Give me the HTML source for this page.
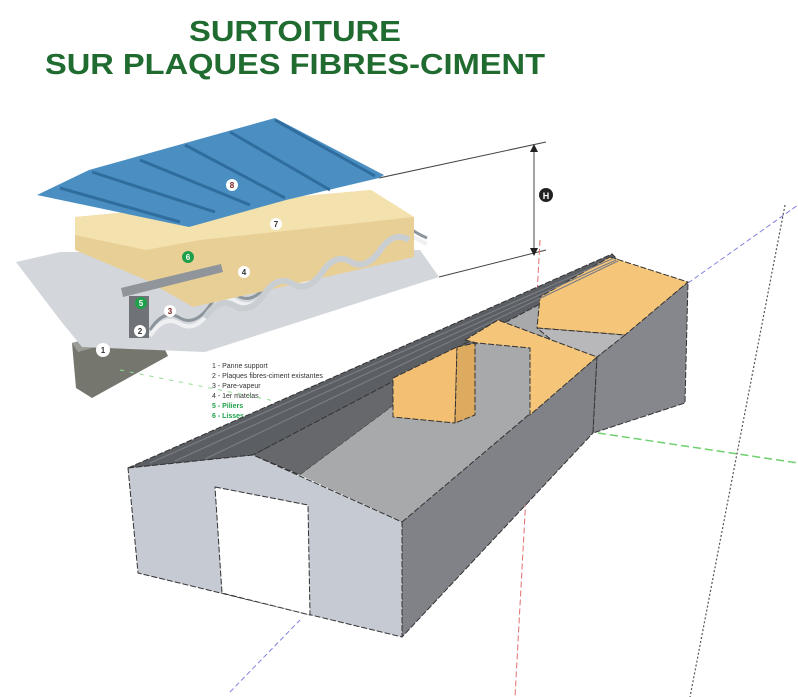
<!DOCTYPE html>
<html><head><meta charset="utf-8"><style>
html,body{margin:0;padding:0;background:#fff;}
svg{display:block}
</style></head><body>
<svg width="798" height="697" viewBox="0 0 798 697" xmlns="http://www.w3.org/2000/svg">
<rect width="798" height="697" fill="#fff"/>
<!-- Title -->
<text x="295" y="41" text-anchor="middle" font-family="Liberation Sans, sans-serif" font-weight="bold" font-size="29" fill="#1f6b30" textLength="212" lengthAdjust="spacingAndGlyphs">SURTOITURE</text>
<text x="295" y="74" text-anchor="middle" font-family="Liberation Sans, sans-serif" font-weight="bold" font-size="29" fill="#1f6b30" textLength="500" lengthAdjust="spacingAndGlyphs">SUR PLAQUES FIBRES-CIMENT</text>

<!-- dimension lines -->
<g stroke="#444" stroke-width="1" fill="none">
<line x1="379" y1="178" x2="546" y2="142"/>
<line x1="439" y1="277" x2="546" y2="250"/>
<line x1="534" y1="146" x2="534" y2="254"/>
</g>
<polygon points="530,152 534,144 538,152" fill="#222"/>
<polygon points="530,248 534,256 538,248" fill="#222"/>
<circle cx="546" cy="195" r="7" fill="#222"/>
<text x="546" y="199" text-anchor="middle" font-family="Liberation Sans, sans-serif" font-weight="bold" font-size="9" fill="#fff">H</text>

<!-- I beam -->
<polygon points="72,343 152,322 168,356 92,398 76,388" fill="#75776f"/>
<polygon points="72,343 152,322 155,330 78,352" fill="#9a9c95"/>
<!-- corrugated sheet -->
<polygon points="16,262 60,252 420,250 439,277 205,352 82,347 60,320" fill="#d3d6da"/>
<path d="M150,330 q14,-22 30,-12 q14,8 28,-10 q14,-22 30,-12 q14,8 28,-10 q14,-22 30,-12 q14,8 28,-10 q14,-22 30,-12 q14,8 28,-10 q14,-22 30,-12 q8,5 15,8" fill="none" stroke="#8c949c" stroke-width="3"/>
<path d="M150,336 q14,-22 30,-12 q14,8 28,-10 q14,-22 30,-12 q14,8 28,-10 q14,-22 30,-12 q14,8 28,-10 q14,-22 30,-12 q14,8 28,-10 q14,-22 30,-12 q8,5 15,8" fill="none" stroke="#eef0f2" stroke-width="4"/>
<!-- insulation -->
<polygon points="75,217 371,190 414,217 414,257 193,307 146,280 75,250" fill="#e8cf96"/>
<polygon points="75,217 371,190 414,217 200,240 146,250 75,235" fill="#f3e1ae"/>
<path d="M205,318 q14,-22 30,-12 q14,8 28,-10 q14,-22 30,-12 q14,8 28,-10 q14,-22 30,-12 q14,8 28,-10 q14,-22 30,-12" fill="none" stroke="#c9ced3" stroke-width="6"/>
<!-- rail and post -->
<polygon points="121,288 221,264 223,272 123,297" fill="#8f959a"/>
<rect x="129" y="296" width="20" height="42" fill="#6f7378"/>
<!-- blue panel -->
<polygon points="37,195 89,170 275,118 384,175 379,178 286,200 189,227" fill="#4b8fc2"/>
<g stroke="#2f6d9e" stroke-width="3">
<line x1="60" y1="188" x2="180" y2="222"/>
<line x1="92" y1="172" x2="215" y2="212"/>
<line x1="140" y1="160" x2="250" y2="205"/>
<line x1="185" y1="145" x2="285" y2="198"/>
<line x1="230" y1="132" x2="330" y2="190"/>
<line x1="275" y1="120" x2="375" y2="176"/>
</g>
<!-- numbers -->
<g font-family="Liberation Sans, sans-serif" font-size="8" font-weight="bold" text-anchor="middle">
<circle cx="232" cy="185" r="6" fill="#fff"/><text x="232" y="188" fill="#7a2020">8</text>
<circle cx="276" cy="224" r="6" fill="#fff"/><text x="276" y="227" fill="#333">7</text>
<circle cx="188" cy="257" r="6" fill="#1ea04a"/><text x="188" y="260" fill="#fff">6</text>
<circle cx="244" cy="272" r="6" fill="#fff"/><text x="244" y="275" fill="#333">4</text>
<circle cx="141" cy="303" r="6" fill="#1ea04a"/><text x="141" y="306" fill="#fff">5</text>
<circle cx="170" cy="311" r="6" fill="#fff"/><text x="170" y="314" fill="#7a2020">3</text>
<circle cx="140" cy="331" r="6" fill="#fff"/><text x="140" y="334" fill="#333">2</text>
<circle cx="103" cy="350" r="7" fill="#fff"/><text x="103" y="353" fill="#333">1</text>
</g>
<!-- legend -->
<g font-family="Liberation Sans, sans-serif" font-size="7" fill="#333">
<text x="212" y="368">1 - Panne support</text>
<text x="212" y="378">2 - Plaques fibres-ciment existantes</text>
<text x="212" y="388">3 - Pare-vapeur</text>
<text x="212" y="398">4 - 1er matelas</text>
<text x="212" y="408" fill="#1ea04a" font-weight="bold">5 - Piliers</text>
<text x="212" y="418" fill="#1ea04a" font-weight="bold">6 - Lisses</text>
</g>

<!-- axes -->
<line x1="598" y1="433" x2="798" y2="463" stroke="#6fd06f" stroke-width="1.5" stroke-dasharray="8 4"/>
<line x1="120" y1="370" x2="420" y2="430" stroke="#8fdc8f" stroke-width="1" stroke-dasharray="4 6"/>
<line x1="540" y1="240" x2="515" y2="697" stroke="#e07070" stroke-width="1" stroke-dasharray="6 3"/>
<line x1="688" y1="283" x2="798" y2="205" stroke="#8080e0" stroke-width="1" stroke-dasharray="5 3"/>
<line x1="230" y1="692" x2="300" y2="620" stroke="#8080e0" stroke-width="1" stroke-dasharray="5 3"/>
<line x1="785" y1="205" x2="690" y2="697" stroke="#555" stroke-width="1.2" stroke-dasharray="2 2"/>

<!-- building -->
<g stroke="#333" stroke-width="1" stroke-dasharray="6 2" stroke-linejoin="round">
<polygon points="253,455 612,258 540,297 300,475" fill="#66686c"/>
<polygon points="300,475 402,522 597,357 540,297" fill="#a8a9ab" stroke="none"/>
<polygon points="128,468 612,254 620,262 253,455" fill="#5b5e63"/>
<polygon points="402,522 597,357 593,433 402,637" fill="#808287"/>
<polygon points="597,357 688,282 685,403 593,433" fill="#85878c"/>
<polygon points="610,257 688,282 625,335 537,328 540,297" fill="#f5c57a"/>
<polygon points="537,328 625,335 597,357 567,353" fill="#b8b8ba"/>
<polygon points="465,340 498,320 597,357 530,415 530,348 477,343" fill="#f5c57a"/>
<polygon points="393,378 457,347 455,423 393,417" fill="#f3bf73"/>
<polygon points="457,347 475,343 475,415 455,423" fill="#dcab60"/>
<polygon points="128,468 253,455 402,522 402,637 138,573" fill="#c5cad3"/>
<polygon points="215,487 308,505 310,615 222,593" fill="#fff"/>
</g>
<g stroke="#7a7d83" stroke-width="1.2">
<line x1="150" y1="463" x2="614" y2="258"/>
<line x1="175" y1="461" x2="616" y2="260"/>
<line x1="205" y1="459" x2="618" y2="261"/>
</g>
</svg>
</body></html>
